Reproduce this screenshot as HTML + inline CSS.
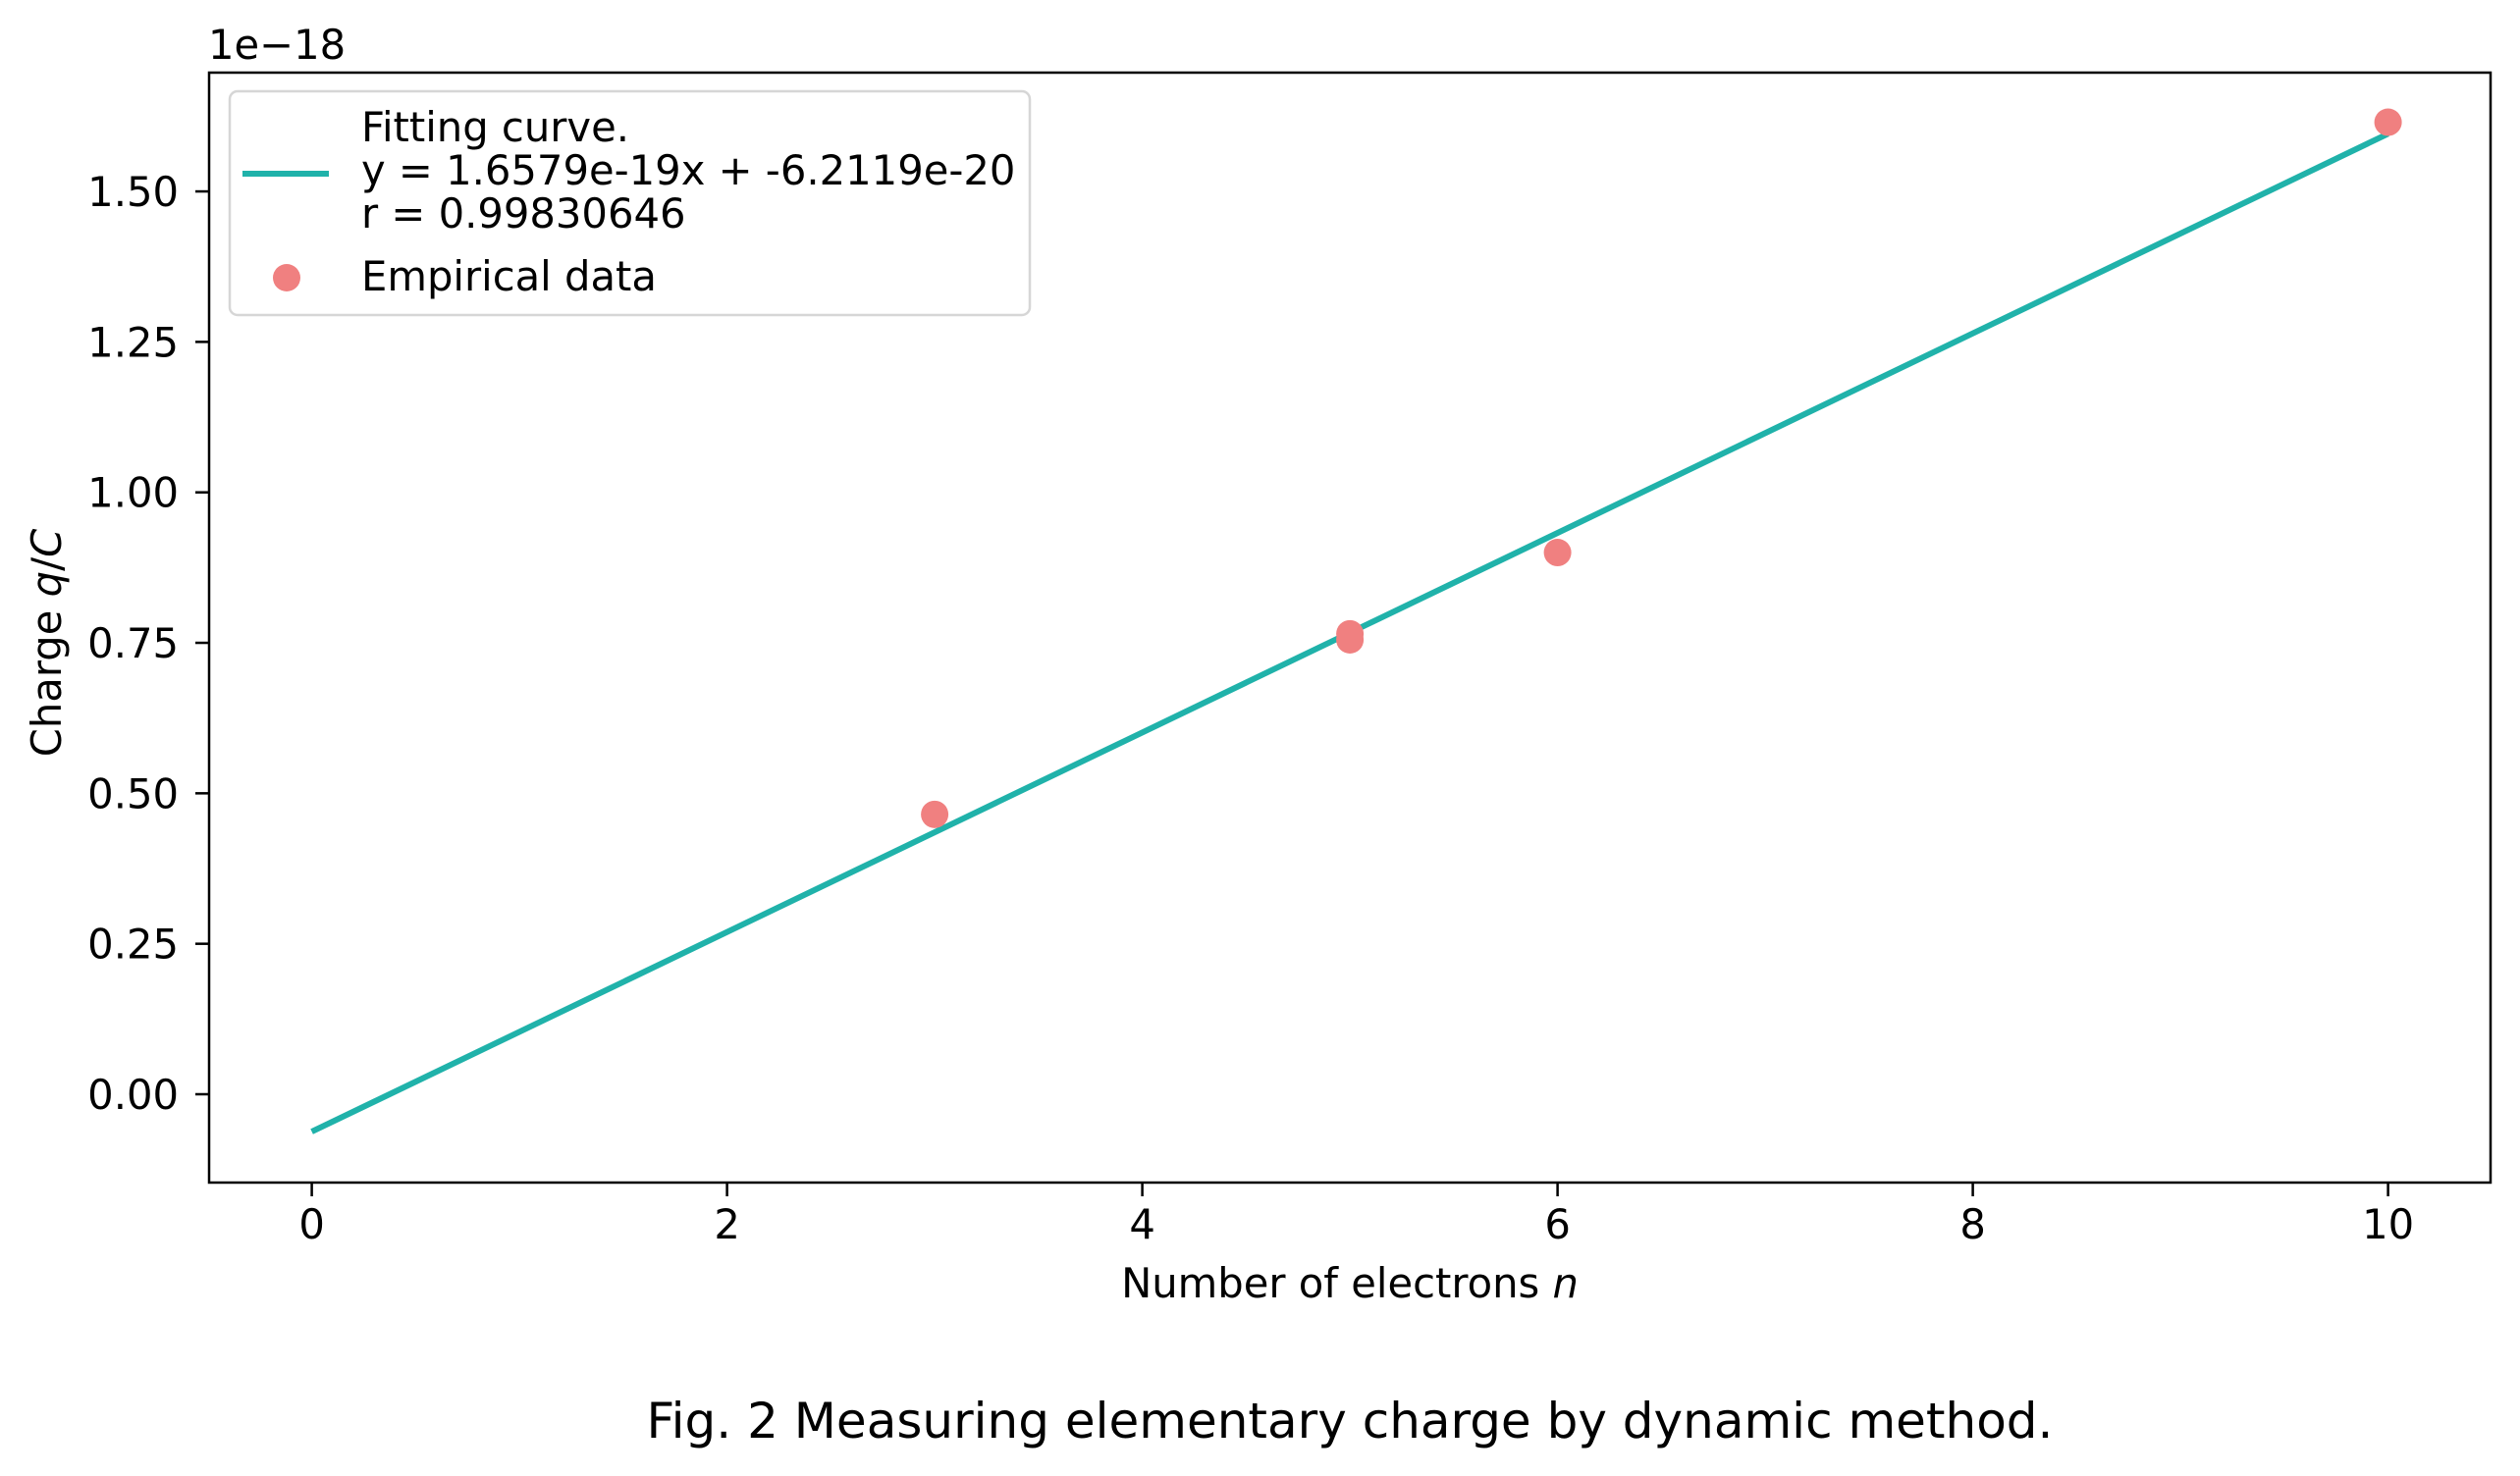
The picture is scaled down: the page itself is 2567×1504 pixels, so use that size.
<!DOCTYPE html>
<html><head><meta charset="utf-8">
<style>
html,body{margin:0;padding:0;background:#fff;}
svg{display:block;font-family:"DejaVu Sans","Liberation Sans",sans-serif;}
</style></head>
<body>
<svg id="chart" width="2567" height="1504" viewBox="0 0 2567 1504" xmlns="http://www.w3.org/2000/svg">
<rect x="0" y="0" width="2567" height="1504" fill="#fff"/>
<g id="plot"></g>
<rect x="213" y="74" width="2324" height="1131" fill="none" stroke="#000" stroke-width="2.5"/>
<text x="212" y="60" font-size="41.7">1e−18</text>
<text x="1375" y="1322" font-size="41.7" text-anchor="middle">Number of electrons <tspan font-style="italic">n</tspan></text>
<text transform="translate(62,655) rotate(-90)" font-size="41.7" text-anchor="middle">Charge <tspan font-style="italic">q</tspan>/<tspan font-style="italic">C</tspan></text>
<text x="1375" y="1465" font-size="50" text-anchor="middle">Fig. 2 Measuring elementary charge by dynamic method.</text>
<g>
<rect x="234" y="93" width="815" height="228" rx="8" fill="#fff" fill-opacity="0.8" stroke="#d6d6d6" stroke-width="2.5"/>
<line x1="247" y1="177" x2="335" y2="177" stroke="#20b2aa" stroke-width="6"/>
<text x="368" y="144" font-size="41.7">Fitting curve.</text>
<text x="368" y="188" font-size="41.7">y = 1.6579e-19x + -6.2119e-20</text>
<text x="368" y="232" font-size="41.7">r = 0.99830646</text>
<circle cx="292" cy="283" r="14" fill="#f08080"/>
<text x="368" y="296" font-size="41.7">Empirical data</text>
</g>
</svg>
<script>
const xTicks = [0, 2, 4, 6, 8, 10];
const yTicks = [0, 0.25, 0.5, 0.75, 1.0, 1.25, 1.5];
const yTickLabels = ["0.00", "0.25", "0.50", "0.75", "1.00", "1.25", "1.50"];
const dataX = [3, 5, 5, 6, 10];
const dataY = [0.465, 0.765, 0.755, 0.90, 1.615];
const fitSlope = [0.16579];
const fitIntercept = [-0.062119];
const fitRange = [0, 10];

const NS = "http://www.w3.org/2000/svg";
function sx(v){ return 317.6 + v * 211.5; }
function sy(v){ return 1115 - v * 613.3; }
const svg = document.getElementById('chart');
const plot = document.getElementById('plot');
function mk(tag, attrs, parent){
  const e = document.createElementNS(NS, tag);
  for (const k in attrs) e.setAttribute(k, attrs[k]);
  (parent || svg).appendChild(e);
  return e;
}
xTicks.forEach(function(t){
  const l = mk('line', {x1: sx(t), x2: sx(t), y1: 1205, y2: 1219, stroke: '#000', 'stroke-width': 2.5});
  
  
  const tx = mk('text', {x: sx(t), y: 1262, 'font-size': 41.7, 'text-anchor': 'middle'});
  tx.textContent = String(t);
  
  
});
yTicks.forEach(function(t, i){
  const l = mk('line', {x1: 199, x2: 213, y1: sy(t), y2: sy(t), stroke: '#000', 'stroke-width': 2.5});
  
  
  const tx = mk('text', {x: 182, y: sy(t) + 15, 'font-size': 41.7, 'text-anchor': 'end'});
  tx.textContent = yTickLabels[i];
  
  
});
const fl = mk('line', {
  x1: sx(fitRange[0]), y1: sy(fitSlope[0] * fitRange[0] + fitIntercept[0]),
  x2: sx(fitRange[1]), y2: sy(fitSlope[0] * fitRange[1] + fitIntercept[0]),
  stroke: '#20b2aa', 'stroke-width': 6
}, plot);


dataX.forEach(function(x, i){
  const c = mk('circle', {cx: sx(x), cy: sy(dataY[i]), r: 14, fill: '#f08080'}, plot);
  
  
});
</script>
</body></html>
